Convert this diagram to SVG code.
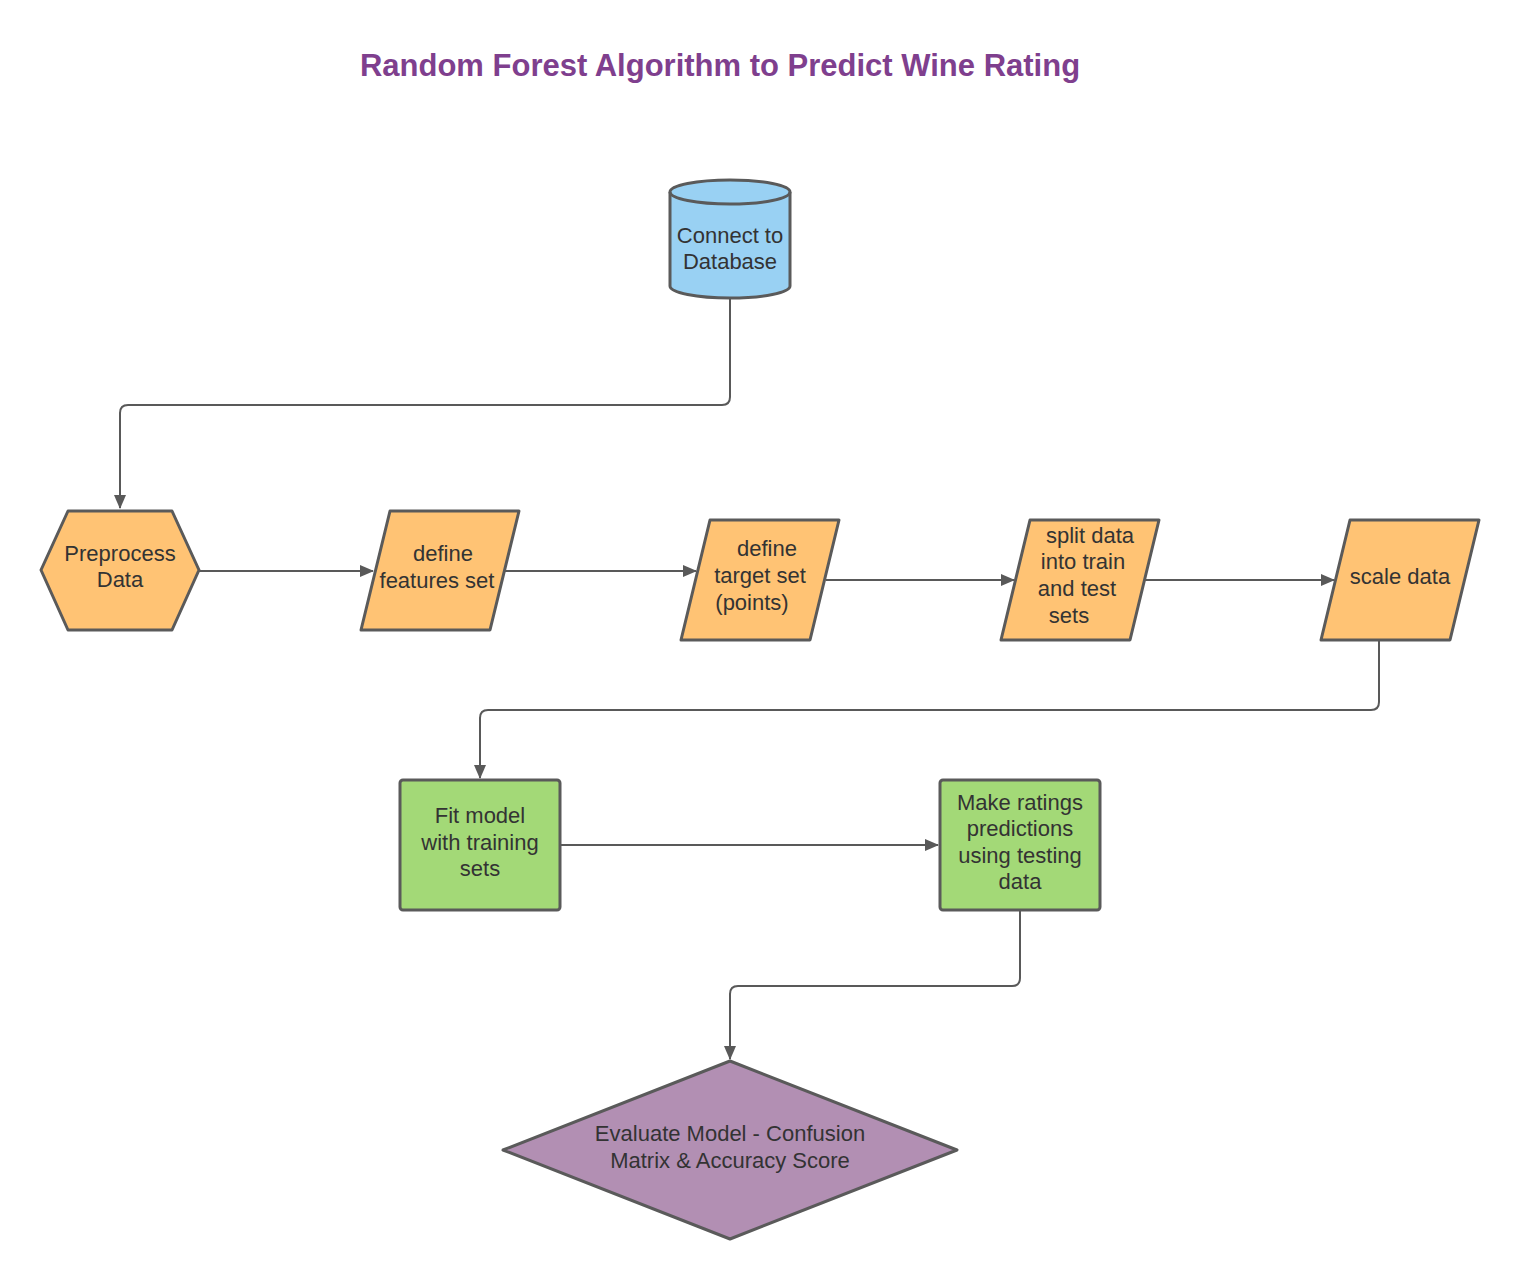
<svg xmlns="http://www.w3.org/2000/svg" width="1520" height="1280" viewBox="0 0 1520 1280">
<style>
.shape{stroke:#5a5a5a;stroke-width:3;stroke-linejoin:round}
.orange{fill:#ffc374}
.green{fill:#a3d977}
.blue{fill:#99d1f3}
.purple{fill:#b28fb3}
.lbl{font-family:"Liberation Sans",Arial,sans-serif;font-size:22px;fill:#333333;text-anchor:middle}
.title{font-family:"Liberation Sans",Arial,sans-serif;font-size:31px;font-weight:bold;fill:#7f3f8e;text-anchor:middle}
.conn{fill:none;stroke:#595959;stroke-width:2;marker-end:url(#arr)}
</style>
<defs>
<marker id="arr" viewBox="0 0 14 12" refX="13" refY="6" markerWidth="14" markerHeight="12" markerUnits="userSpaceOnUse" orient="auto">
<path d="M0,0 L14,6 L0,12 Z" fill="#595959"/>
</marker>
</defs>
<rect width="1520" height="1280" fill="#ffffff"/>
<text class="title" x="720" y="76">Random Forest Algorithm to Predict Wine Rating</text>
<g id="connectors">
<path class="conn" d="M730,299 V397 Q730,405 722,405 H128 Q120,405 120,413 V508"/>
<path class="conn" d="M199,571 H373"/>
<path class="conn" d="M505,571 H696"/>
<path class="conn" d="M826,580 H1014"/>
<path class="conn" d="M1145,580 H1334"/>
<path class="conn" d="M1379,641 V702 Q1379,710 1371,710 H488 Q480,710 480,718 V778"/>
<path class="conn" d="M560,845 H938"/>
<path class="conn" d="M1020,911 V978 Q1020,986 1012,986 H738 Q730,986 730,994 V1059"/>
</g>
<g id="n-db">
<path class="shape blue" d="M670,192 V286 A60,12 0 0 0 790,286 V192 A60,12 0 0 0 670,192 Z"/>
<path class="shape" fill="none" d="M670,192 A60,12 0 0 0 790,192"/>
<text class="lbl" x="730" y="243">Connect to</text>
<text class="lbl" x="730" y="269">Database</text>
</g>
<g id="n-preprocess">
<polygon class="shape orange" points="41,570 68,511 172,511 199,570 172,630 68,630"/>
<text class="lbl" x="120" y="561">Preprocess</text>
<text class="lbl" x="120" y="587">Data</text>
</g>
<g id="n-features">
<polygon class="shape orange" points="390,511 519,511 490,630 361,630"/>
<text class="lbl" x="443" y="561">define</text>
<text class="lbl" x="437" y="588">features set</text>
</g>
<g id="n-target">
<polygon class="shape orange" points="710,520 839,520 810,640 681,640"/>
<text class="lbl" x="767" y="556">define</text>
<text class="lbl" x="760" y="583">target set</text>
<text class="lbl" x="752" y="610">(points)</text>
</g>
<g id="n-split">
<polygon class="shape orange" points="1030,520 1159,520 1130,640 1001,640"/>
<text class="lbl" x="1090" y="543">split data</text>
<text class="lbl" x="1083" y="569">into train</text>
<text class="lbl" x="1077" y="596">and test</text>
<text class="lbl" x="1069" y="623">sets</text>
</g>
<g id="n-scale">
<polygon class="shape orange" points="1350,520 1479,520 1450,640 1321,640"/>
<text class="lbl" x="1400" y="584">scale data</text>
</g>
<g id="n-fit">
<rect class="shape green" x="400" y="780" width="160" height="130" rx="3"/>
<text class="lbl" x="480" y="823">Fit model</text>
<text class="lbl" x="480" y="850">with training</text>
<text class="lbl" x="480" y="876">sets</text>
</g>
<g id="n-predict">
<rect class="shape green" x="940" y="780" width="160" height="130" rx="3"/>
<text class="lbl" x="1020" y="810">Make ratings</text>
<text class="lbl" x="1020" y="836">predictions</text>
<text class="lbl" x="1020" y="863">using testing</text>
<text class="lbl" x="1020" y="889">data</text>
</g>
<g id="n-evaluate">
<polygon class="shape purple" points="503,1150 730,1061 957,1150 730,1239"/>
<text class="lbl" x="730" y="1141">Evaluate Model - Confusion</text>
<text class="lbl" x="730" y="1168">Matrix &amp; Accuracy Score</text>
</g>
</svg>
